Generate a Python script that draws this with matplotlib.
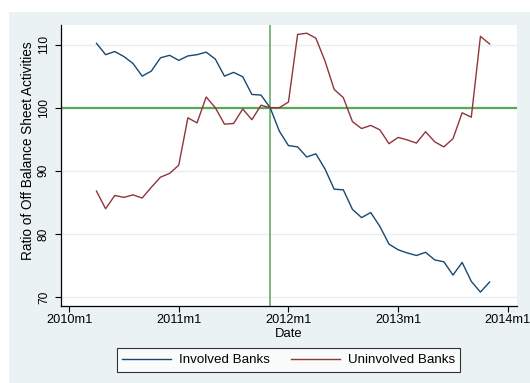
import numpy as np
import matplotlib
matplotlib.use("Agg")
import matplotlib.pyplot as plt
from matplotlib.patches import Rectangle

plt.rcParams['font.family'] = ['Liberation Sans', 'DejaVu Sans']

# months counted from 2010m1 (0 = 2010m1)
months = list(range(3, 47))

involved = [110.2, 108.4, 108.9, 108.1, 107.0, 105.0, 105.8, 107.9, 108.3, 107.5,
            108.2, 108.4, 108.8, 107.7, 105.0, 105.6, 104.9, 102.1, 102.0, 100.0,
            96.3, 94.0, 93.8, 92.2, 92.7, 90.3, 87.1, 87.0, 83.9, 82.6,
            83.4, 81.2, 78.4, 77.5, 77.0, 76.6, 77.1, 75.9, 75.6, 73.5,
            75.5, 72.5, 70.8, 72.4]

uninvolved = [86.8, 84.0, 86.1, 85.8, 86.2, 85.7, 87.4, 89.0, 89.6, 90.9,
              98.4, 97.6, 101.7, 100.0, 97.4, 97.5, 99.8, 98.1, 100.4, 100.0,
              100.0, 100.9, 111.6, 111.8, 111.0, 107.4, 102.9, 101.6, 97.8, 96.7,
              97.2, 96.5, 94.3, 95.3, 94.9, 94.4, 96.2, 94.6, 93.8, 95.1,
              99.2, 98.5, 111.3, 110.1]

xtick_pos = [0, 12, 24, 36, 48]
xtick_labels = ["2010m1", "2011m1", "2012m1", "2013m1", "2014m1"]
ytick_pos = [70, 80, 90, 100, 110]
event_month = 22  # 2011m11

W, H = 530, 383
fig = plt.figure(figsize=(W / 100, H / 100), dpi=100)
fig.patch.set_facecolor("white")
fig.patches.append(Rectangle((9 / W, 0), 1 - 9 / W, (H - 12) / H,
                             transform=fig.transFigure, facecolor="#eaf2f3",
                             edgecolor="none", zorder=-5))

ax = fig.add_axes([61 / W, (H - 306) / H, (517 - 61) / W, (306 - 25) / H])
ax.set_facecolor("white")

ax.plot(months, involved, color="#1a476f", lw=1.0, label="Involved Banks", zorder=3)
ax.plot(months, uninvolved, color="#90353b", lw=1.0, label="Uninvolved Banks", zorder=3)
ax.axhline(100, color="#5ba65b", lw=1.6, zorder=2)
ax.axvline(event_month, color="#5ba65b", lw=1.1, zorder=2)

ax.set_xlim(-0.88, 49.0)
ax.set_ylim(68.6, 113.1)
ax.set_xticks(xtick_pos)
ax.set_xticklabels(xtick_labels, fontsize=9.2)
ax.set_yticks(ytick_pos)
ax.set_yticklabels([str(v) for v in ytick_pos], fontsize=8.6, rotation=90, va="center")
ax.tick_params(axis="both", direction="out", length=4, width=0.8, color="black")
ax.tick_params(axis="x", pad=2)
ax.tick_params(axis="y", pad=4)
ax.grid(axis="y", color="#e6eef0", lw=1.0, zorder=1)
ax.set_axisbelow(True)

for s in ["top", "right"]:
    ax.spines[s].set_visible(False)
for s in ["left", "bottom"]:
    ax.spines[s].set_linewidth(0.9)
    ax.spines[s].set_color("black")

ax.set_xlabel("Date", fontsize=9.4, labelpad=1)
ax.set_ylabel("Ratio of Off Balance Sheet Activities", fontsize=9.8, labelpad=3)
ax.yaxis.set_label_coords(-26 / (517 - 61), (306 - 151) / (306 - 25))

leg = fig.legend(loc="center", bbox_to_anchor=(288.5 / W, (H - 360) / H), ncol=2,
                 fontsize=9.6, frameon=True, fancybox=False, edgecolor="black",
                 handlelength=3.7, handletextpad=0.55, columnspacing=1.6,
                 borderpad=0.42)
leg.get_frame().set_linewidth(0.8)

fig.savefig("out.png", dpi=100)
